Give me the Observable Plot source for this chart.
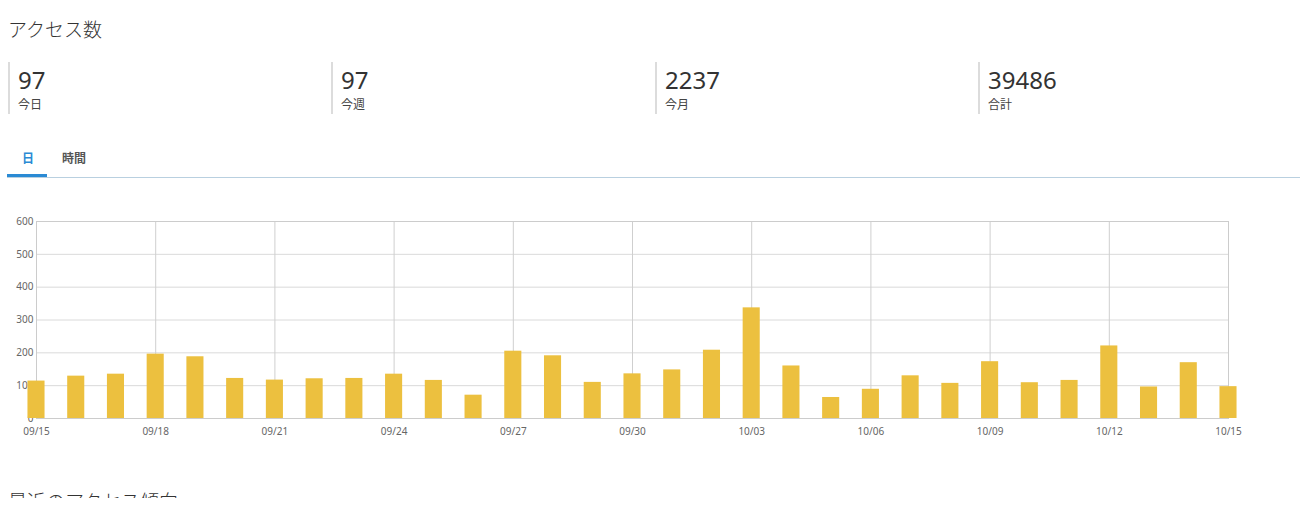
<!DOCTYPE html>
<html><head><meta charset="utf-8">
<script src="https://cdn.jsdelivr.net/npm/d3@7"></script>
<script src="https://cdn.jsdelivr.net/npm/@observablehq/plot@0.6"></script>
<style>
body{margin:0;width:1300px;height:527px;overflow:hidden;background:#fff;position:relative;
 font-family:"Segoe UI","Noto Sans","Noto Sans CJK JP",sans-serif;color:#333}
.title{position:absolute;left:8px;top:16px;font-size:19px;line-height:26px;color:#333;font-family:"Noto Sans CJK JP",sans-serif;font-weight:300}
.stat{position:absolute;top:62px;height:52px;border-left:2px solid #dcdcdc;padding-left:8px;width:312px}
.stat .num{font-size:24px;line-height:32px;margin-top:2px;color:#333;font-family:"Noto Sans",sans-serif;font-weight:400}
.stat .lab{font-size:12px;line-height:16px;color:#444;font-family:"Noto Sans CJK JP",sans-serif}
.tabs{position:absolute;left:7px;top:146px;width:1293px;height:31px;border-bottom:1px solid #b9d0e0}
.tab{position:absolute;top:3px;font-size:12px;font-weight:700;font-family:"Noto Sans CJK JP",sans-serif}
.tab.on{left:15px;color:#2a8ad4}
.tab.off{left:55px;color:#555}
.ul{position:absolute;left:0;top:28px;width:40px;height:3px;background:#2a8ad4}
#chart{position:absolute;left:0;top:200px}
.next{position:absolute;left:8px;top:488px;height:10px;overflow:hidden;font-size:19px;line-height:26px;color:#333;font-family:"Noto Sans CJK JP",sans-serif;font-weight:300}
</style></head>
<body>
<div class="title">アクセス数</div>
<div id="stats"></div>
<div class="tabs"><span class="tab on">日</span><span class="tab off">時間</span><div class="ul"></div></div>
<div id="chart"></div>
<div class="next">最近のアクセス傾向</div>
<script>
const statValues = ["97","97","2237","39486"];
const statLabels = ["今日","今週","今月","合計"];
const statLeft = [8,331,655,978];

const days = ["09/15","09/16","09/17","09/18","09/19","09/20","09/21","09/22","09/23","09/24","09/25","09/26","09/27","09/28","09/29","09/30","10/01","10/02","10/03","10/04","10/05","10/06","10/07","10/08","10/09","10/10","10/11","10/12","10/13","10/14","10/15"];
const visits = [114,129,135,196,188,122,117,121,122,135,116,71,205,191,110,136,148,208,337,160,64,89,130,107,173,109,116,221,96,170,97];
const xTickLabels = ["09/15","09/18","09/21","09/24","09/27","09/30","10/03","10/06","10/09","10/12","10/15"];
const yTicks = [0,100,200,300,400,500,600];

const stats = document.getElementById("stats");
statValues.forEach((v,k)=>{
  const d = document.createElement("div");
  d.className = "stat";
  d.style.left = statLeft[k] + "px";
  d.innerHTML = `<div class="num">${v}</div><div class="lab">${statLabels[k]}</div>`;
  stats.appendChild(d);
});

const data = days.map((d,i)=>({i, day:d, value:visits[i]}));
const xTicks = xTickLabels.map(l=>days.indexOf(l));
const half = 0.215;

const chart = Plot.plot({
  width:1300, height:250,
  marginLeft:36, marginRight:72, marginTop:21, marginBottom:32,
  style:{fontSize:"10px", color:"#666", fontFamily:"'Noto Sans','Open Sans',sans-serif", background:"transparent"},
  x:{domain:[0,days.length-1], ticks:xTicks, tickFormat:i=>days[i], tickSize:0, tickPadding:9, label:null},
  y:{domain:[0,600], ticks:yTicks, tickSize:0, tickPadding:3, label:null},
  marks:[
    Plot.gridY(yTicks,{stroke:"#dadada", strokeOpacity:1}),
    Plot.gridX(xTicks,{stroke:"#cfcfcf", strokeOpacity:1}),
    Plot.frame({stroke:"#cccccc"}),
    Plot.rectY(data,{x1:d=>d.i-half, x2:d=>d.i+half, y:"value", fill:"#ecc03f"}),
    Plot.ruleY([0],{stroke:"#cccccc"})
  ]
});
document.getElementById("chart").appendChild(chart);
</script>
</body></html>
